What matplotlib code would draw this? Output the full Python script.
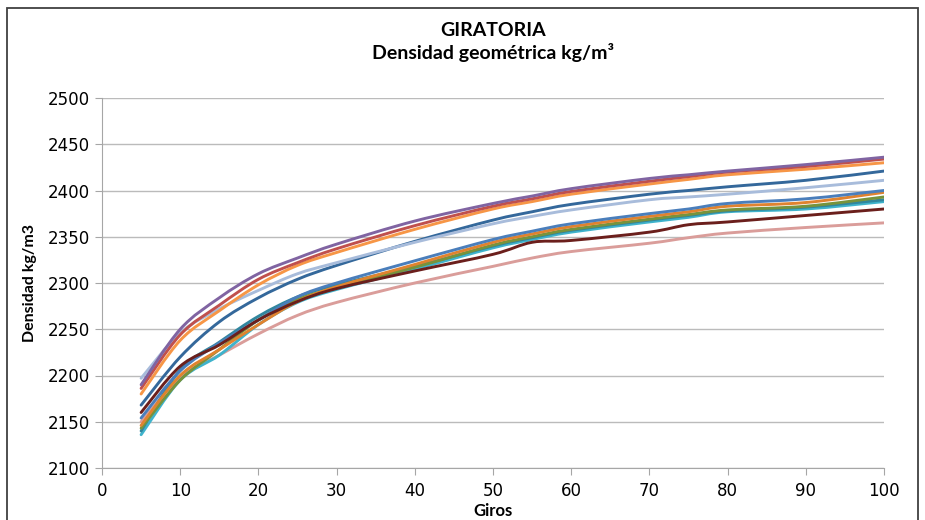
import numpy as np
import matplotlib.pyplot as plt
from matplotlib.path import Path
from matplotlib.patches import PathPatch, Rectangle

giros = [5, 10, 15, 20, 25, 30, 40, 50, 55, 60, 70, 75, 80, 90, 100]

# densidades (kg/m3)
pink = [2150, 2198, 2222, 2245, 2265, 2279, 2300, 2318, 2327, 2334, 2343, 2349, 2354, 2360, 2365]
aqua = [2136, 2195, 2222, 2255, 2279, 2293, 2315, 2338, 2347, 2355, 2366, 2371, 2377, 2380, 2388]
teal = [2140, 2206, 2236, 2264, 2285, 2298, 2318, 2340, 2349, 2357, 2368, 2373, 2378, 2382, 2390]
green = [2143, 2195, 2228, 2260, 2282, 2295, 2317, 2341, 2350, 2358, 2369, 2374, 2379, 2383, 2393]
orange2 = [2146, 2200, 2228, 2255, 2280, 2296, 2320, 2344, 2353, 2361, 2372, 2377, 2383, 2387, 2398]
blue = [2154, 2205, 2235, 2260, 2285, 2300, 2324, 2347, 2356, 2364, 2375, 2380, 2386, 2391, 2400]
brown = [2160, 2210, 2233, 2260, 2280, 2294, 2313, 2331, 2344, 2346, 2355, 2363, 2366, 2373, 2380]
darkblue = [2168, 2220, 2258, 2284, 2304, 2319, 2345, 2368, 2377, 2385, 2396, 2400, 2404, 2411, 2421]
lightblue = [2197, 2246, 2272, 2292, 2310, 2322, 2344, 2364, 2372, 2379, 2390, 2393, 2396, 2403, 2411]
orange = [2180, 2238, 2270, 2298, 2319, 2333, 2358, 2380, 2388, 2396, 2407, 2412, 2417, 2423, 2430]
red = [2186, 2244, 2276, 2304, 2322, 2337, 2362, 2383, 2391, 2399, 2410, 2415, 2420, 2426, 2434]
purple = [2190, 2250, 2284, 2310, 2327, 2342, 2367, 2386, 2394, 2402, 2413, 2417, 2421, 2428, 2436]

series = [
    (pink, '#DA9D9A'),
    (aqua, '#3FB3CC'),
    (teal, '#31869E'),
    (green, '#77933C'),
    (orange2, '#E0832F'),
    (blue, '#4A7EBB'),
    (brown, '#6B1F1C'),
    (darkblue, '#34689B'),
    (lightblue, '#A8BCDB'),
    (orange, '#F79646'),
    (red, '#C0504D'),
    (purple, '#8064A2'),
]


def smooth_path(xs, ys):
    # curva suavizada tipo Excel (Bezier por Catmull-Rom)
    pts = np.column_stack([xs, ys]).astype(float)
    n = len(pts)
    verts = [pts[0]]
    codes = [Path.MOVETO]
    for i in range(n - 1):
        p0 = pts[i - 1] if i > 0 else pts[i]
        p1 = pts[i]
        p2 = pts[i + 1]
        p3 = pts[i + 2] if i + 2 < n else pts[i + 1]
        verts += [p1 + (p2 - p0) / 6, p2 - (p3 - p1) / 6, p2]
        codes += [Path.CURVE4] * 3
    return Path(verts, codes)


fig = plt.figure(figsize=(9.25, 5.2), dpi=100)
ax = fig.add_axes([102 / 925, 1 - 468 / 520, (884 - 102) / 925, (468 - 98) / 520])

for vals, col in series:
    ax.add_patch(PathPatch(smooth_path(giros, vals), facecolor='none',
                           edgecolor=col, lw=2.1, capstyle='round'))

ax.set_xlim(0, 100)
ax.set_ylim(2100, 2500)
ax.set_xticks(range(0, 101, 10))
ax.set_yticks(range(2100, 2501, 50))
ax.grid(axis='y', color='#BBBBBB', lw=1)
ax.set_axisbelow(True)
for s in ['top', 'right']:
    ax.spines[s].set_visible(False)
for s in ['left', 'bottom']:
    ax.spines[s].set_color('#A6A6A6')
ax.tick_params(colors='#A6A6A6', labelcolor='black', length=5, labelsize=12)
ax.tick_params(axis='x', pad=5)

ax.set_xlabel('Giros', fontsize=12, fontweight='bold', family='Lato', labelpad=2)
ax.set_ylabel('Densidad kg/m3', fontsize=11.5, fontweight='bold', family='Lato', labelpad=8)

fig.text(493 / 925, 1 - 30 / 520, 'GIRATORIA', ha='center', va='center',
         fontsize=14, fontweight='bold', family='Lato')
fig.text(493 / 925, 1 - 53 / 520, 'Densidad geométrica kg/m³', ha='center', va='center',
         fontsize=14, fontweight='bold', family=['Lato', 'DejaVu Sans'])

fig.patches.append(Rectangle((7 / 925, -0.05), (918 - 7) / 925, 1.05 - 8 / 520,
                             transform=fig.transFigure, fill=False,
                             edgecolor='#404040', lw=1.3))

fig.savefig('out.png', dpi=100)
